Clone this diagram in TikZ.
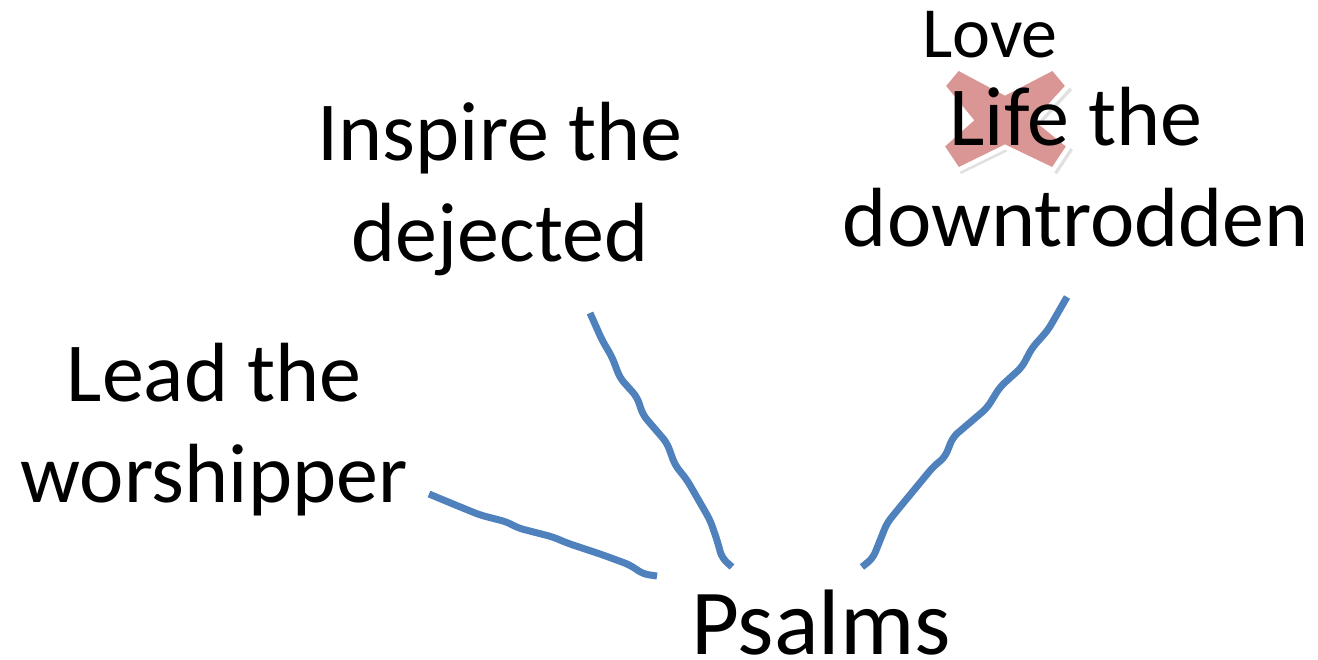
\documentclass[tikz,border=0pt]{standalone}
\usepackage{fontspec}
\setmainfont{Carlito}
\begin{document}
\begin{tikzpicture}[x=1pt,y=-1pt,
  lbl/.style={inner sep=0pt,outer sep=0pt,anchor=base,align=center,font=\fontsize{84}{101}\selectfont},
  wig/.style={draw=wigblue,line width=7pt,line cap=butt,line join=round,rounded corners=6pt},
  xmark/.style={fill=xred,draw=white,line width=4.5pt,line join=miter}]
\definecolor{wigblue}{HTML}{4F81BD}
\definecolor{xred}{HTML}{D99694}
\useasboundingbox (0,0) rectangle (1318,660);
% X mark
\fill[black,opacity=0.12] (961,72) -- (1008,97) -- (1056,72) -- (1072,90) -- (1041,124) -- (1073,150) -- (1057,174) -- (1008,151) -- (961,174) -- (946,150) -- (975,124) -- (947,90) -- cycle;
\path[xmark] (958,68) -- (1005,93) -- (1053,68) -- (1068,86) -- (1037,120) -- (1069,146) -- (1053,170) -- (1005,147) -- (958,170) -- (942,146) -- (971,120) -- (943,86) -- cycle;
% labels
\node[lbl] (insp) at (500,262) {Inspire the\\dejected};
\node[lbl] (lead) at (214,502) {Lead the\\worshipper};
\node[lbl] (life) at (1076,247) {Life the\\downtrodden};
\node[lbl,font=\fontsize{72}{86}\selectfont] (love) at (990,58) {Love};
\node[lbl,font=\fontsize{93}{112}\selectfont] (ps) at (821,654) {Psalms};
% connector ends
\coordinate (a1) at (429,494); \coordinate (a2) at (657,576);
\coordinate (b1) at (590,313); \coordinate (b2) at (732,567);
\coordinate (c1) at (1067,297); \coordinate (c2) at (862,567);
\draw[wig] (a1) -- (453,504) -- (480,515) -- (507,522) -- (518,528) -- (553,537) -- (567,543) -- (603,555) -- (630,565) -- (643,574) -- (a2);
\draw[wig] (b1) -- (602,340) -- (612,357) -- (620,378) -- (637,397) -- (643,415) -- (667,443) -- (675,465) -- (687,480) -- (710,520) -- (717,540) -- (722,558) -- (b2);
\draw[wig] (c1) -- (1048,330) -- (1032,348) -- (1022,367) -- (1000,387) -- (987,408) -- (953,437) -- (945,457) -- (933,467) -- (900,507) -- (887,523) -- (873,558) -- (c2);
\end{tikzpicture}
\end{document}
